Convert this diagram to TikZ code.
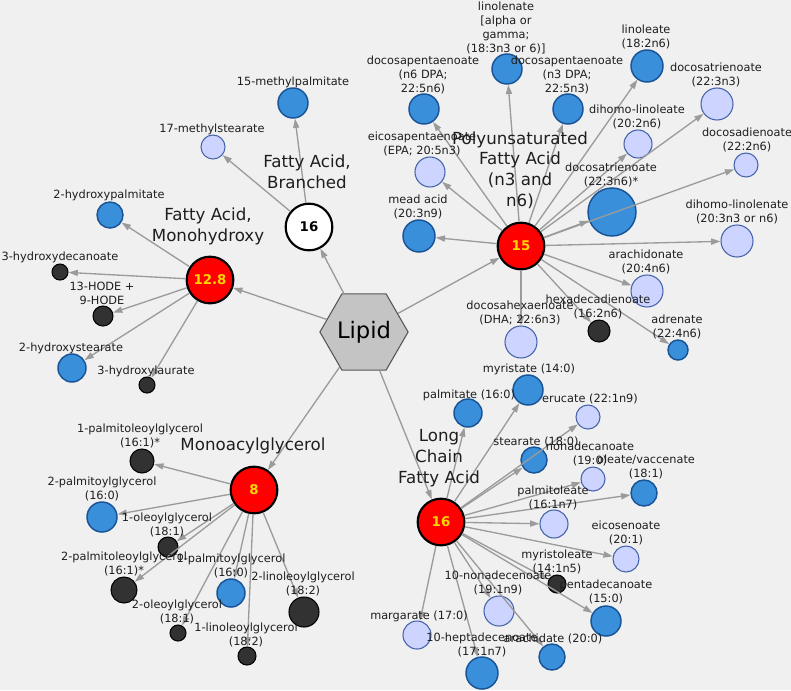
\documentclass[tikz,border=0pt]{standalone}
\usepackage{fontspec}
\setmainfont{DejaVu Sans}
\usetikzlibrary{arrows.meta,shapes.geometric}
\definecolor{bg}{RGB}{240,240,240}
\definecolor{dbF}{RGB}{58,143,218}
\definecolor{dbB}{RGB}{24,84,150}
\definecolor{lvF}{RGB}{204,212,255}
\definecolor{lvB}{RGB}{70,100,170}
\definecolor{dkF}{RGB}{50,50,50}
\definecolor{edgeC}{RGB}{155,155,155}
\definecolor{txtC}{RGB}{30,30,30}
\definecolor{yel}{RGB}{255,215,0}
\definecolor{hexF}{RGB}{196,196,196}
\definecolor{hexB}{RGB}{85,85,85}
\tikzset{
  cn/.style={circle, inner sep=0pt, minimum size={#1*1.5pt}},
  db/.style={cn=#1, draw=dbB, fill=dbF, line width=1.1pt},
  lv/.style={cn=#1, draw=lvB, fill=lvF, line width=0.8pt},
  dk/.style={cn=#1, draw=black, fill=dkF, line width=0.8pt},
  grp/.style={circle, inner sep=0pt, minimum size=35pt, draw=black, fill=red, line width=1.6pt, text=yel, font=\fontsize{10}{12}\selectfont\bfseries},
  grpw/.style={grp, fill=white, text=black},
  lab/.style={align=center, inner sep=0pt, text=txtC, font=\fontsize{8.5}{10.5}\selectfont},
  glab/.style={align=center, inner sep=0pt, text=txtC, font=\fontsize{12.5}{15.6}\selectfont},
  edge/.style={draw=edgeC, line width=1pt, -{Triangle[length=7pt,width=4.6pt]}},
}
\begin{document}
\begin{tikzpicture}[x=0.75pt,y=-0.75pt]
\fill[bg] (0,0) rectangle (791,690);
\useasboundingbox (0,0) rectangle (791,690);

% hub and group nodes
\node[regular polygon, regular polygon sides=6, minimum size=51pt, inner sep=0pt, draw=hexB, fill=hexF, line width=0.8pt, font=\fontsize{17}{20}\selectfont] (lipid) at (364,332) {Lipid};
\node[grp] (mh) at (210,280) {12.8};
\node[grpw] (br) at (309,227) {16};
\node[grp] (pu) at (521,246) {15};
\node[grp] (mag) at (254,490) {8};
\node[grp] (lc) at (441,522) {16};

% branched
\node[db=15] (m15p) at (293,103) {};
\node[lv=12] (m17s) at (213,147) {};
% monohydroxy
\node[db=13] (h2p) at (110,215) {};
\node[dk=8] (h3d) at (60,272) {};
\node[dk=10] (hode) at (103,316) {};
\node[db=14] (h2s) at (72,368) {};
\node[dk=8] (h3l) at (147,385) {};
% PUFA
\node[db=15] (lin3) at (507,69) {};
\node[db=15] (dpa6) at (424,109) {};
\node[db=15] (dpa3) at (568,109) {};
\node[db=16] (lin2) at (647,66) {};
\node[lv=16] (dtn3) at (717,104) {};
\node[lv=14] (dhl) at (638,144) {};
\node[lv=12] (dd) at (746,165) {};
\node[db=24] (dtn6) at (612,212) {};
\node[lv=16] (dhln) at (737,241) {};
\node[lv=15] (epa) at (430,172) {};
\node[db=16] (mead) at (419,236) {};
\node[lv=16] (ara) at (647,291) {};
\node[dk=11] (hxd) at (599,331) {};
\node[db=10] (adr) at (678,350) {};
\node[lv=16] (dha) at (521,342) {};
% long chain
\node[db=15] (myr) at (528,390) {};
\node[db=14] (pal) at (468,413) {};
\node[lv=12] (eru) at (588,417) {};
\node[db=13] (ste) at (534,460) {};
\node[lv=12] (nond) at (593,479) {};
\node[db=13] (olv) at (644,493) {};
\node[lv=14] (plo) at (554,524) {};
\node[lv=13] (eic) at (626,559) {};
\node[dk=9] (myro) at (557,584) {};
\node[db=15] (pent) at (606,621) {};
\node[lv=15] (nonde) at (499,611) {};
\node[lv=14] (marg) at (417,635) {};
\node[db=16] (hept) at (482,673) {};
\node[db=13] (arach) at (552,657) {};
% monoacylglycerol
\node[dk=12] (g1po) at (142,461) {};
\node[db=15] (g2p) at (102,517) {};
\node[dk=10] (g1o) at (168,547) {};
\node[dk=13] (g2po) at (124,590) {};
\node[db=14] (g1p) at (231,593) {};
\node[dk=15] (g2l) at (304,612) {};
\node[dk=8] (g2o) at (178,633) {};
\node[dk=9] (g1l) at (247,656) {};

% edges
\foreach \c in {mh,br,pu,mag,lc} \draw[edge] (lipid) -- (\c);
\foreach \c in {m15p,m17s} \draw[edge] (br) -- (\c);
\foreach \c in {h2p,h3d,hode,h2s,h3l} \draw[edge] (mh) -- (\c);
\foreach \c in {lin3,dpa6,dpa3,lin2,dtn3,dhl,dd,dtn6,dhln,epa,mead,ara,hxd,adr,dha} \draw[edge] (pu) -- (\c);
\foreach \c in {myr,pal,eru,ste,nond,olv,plo,eic,myro,pent,nonde,marg,hept,arach} \draw[edge] (lc) -- (\c);
\foreach \c in {g1po,g2p,g1o,g2po,g1p,g2l,g2o,g1l} \draw[edge] (mag) -- (\c);

% group labels
\node[glab] (tbr) at (307,172) {Fatty Acid,\\Branched};
\node[glab] (tmh) at (208,226) {Fatty Acid,\\Monohydroxy};
\node[glab] (tpu) at (520,170) {Polyunsaturated\\Fatty Acid\\(n3 and\\n6)};
\node[glab] (tmag) at (253,446) {Monoacylglycerol};
\node[glab] (tlc) at (439,458) {Long\\Chain\\Fatty Acid};

% labels
\node[lab] (l1) at (293,82) {15-methylpalmitate};
\node[lab] (l2) at (212,129) {17-methylstearate};
\node[lab] (l3) at (109,195) {2-hydroxypalmitate};
\node[lab] (l4) at (60,257) {3-hydroxydecanoate};
\node[lab] (l5) at (102,293) {13-HODE +\\9-HODE};
\node[lab] (l6) at (71,348) {2-hydroxystearate};
\node[lab] (l7) at (146,371) {3-hydroxylaurate};
\node[lab] (l8) at (506,28) {linolenate\\{[alpha or}\\gamma;\\(18:3n3 or 6)]};
\node[lab] (l9) at (423,75) {docosapentaenoate\\(n6 DPA;\\22:5n6)};
\node[lab] (l10) at (567,75) {docosapentaenoate\\(n3 DPA;\\22:5n3)};
\node[lab] (l11) at (646,37) {linoleate\\(18:2n6)};
\node[lab] (l12) at (716,75) {docosatrienoate\\(22:3n3)};
\node[lab] (l13) at (637,117) {dihomo-linoleate\\(20:2n6)};
\node[lab] (l14) at (747,140) {docosadienoate\\(22:2n6)};
\node[lab] (l15) at (611,175) {docosatrienoate\\(22:3n6)*};
\node[lab] (l16) at (737,212) {dihomo-linolenate\\(20:3n3 or n6)};
\node[lab] (l17) at (422,144) {eicosapentaenoate\\(EPA; 20:5n3)};
\node[lab] (l18) at (418,207) {mead acid\\(20:3n9)};
\node[lab] (l19) at (646,262) {arachidonate\\(20:4n6)};
\node[lab] (l20) at (598,307) {hexadecadienoate\\(16:2n6)};
\node[lab] (l21) at (677,327) {adrenate\\(22:4n6)};
\node[lab] (l22) at (520,313) {docosahexaenoate\\(DHA; 22:6n3)};
\node[lab] (l23) at (529,369) {myristate (14:0)};
\node[lab] (l24) at (469,395) {palmitate (16:0)};
\node[lab] (l25) at (590,399) {erucate (22:1n9)};
\node[lab] (l26) at (536,442) {stearate (18:0)};
\node[lab] (l27) at (590,454) {nonadecanoate\\(19:0)};
\node[lab] (l28) at (646,467) {oleate/vaccenate\\(18:1)};
\node[lab] (l29) at (553,498) {palmitoleate\\(16:1n7)};
\node[lab] (l30) at (626,533) {eicosenoate\\(20:1)};
\node[lab] (l31) at (557,562) {myristoleate\\(14:1n5)};
\node[lab] (l32) at (606,592) {pentadecanoate\\(15:0)};
\node[lab] (l33) at (498,583) {10-nonadecenoate\\(19:1n9)};
\node[lab] (l34) at (419,616) {margarate (17:0)};
\node[lab] (l35) at (482,645) {10-heptadecenoate\\(17:1n7)};
\node[lab] (l36) at (553,639) {arachidate (20:0)};
\node[lab] (l37) at (140,436) {1-palmitoleoylglycerol\\(16:1)*};
\node[lab] (l38) at (102,489) {2-palmitoylglycerol\\(16:0)};
\node[lab] (l39) at (167,525) {1-oleoylglycerol\\(18:1)};
\node[lab] (l40) at (124,564) {2-palmitoleoylglycerol\\(16:1)*};
\node[lab] (l41) at (231,566) {1-palmitoylglycerol\\(16:0)};
\node[lab] (l42) at (303,584) {2-linoleoylglycerol\\(18:2)};
\node[lab] (l43) at (177,612) {2-oleoylglycerol\\(18:1)};
\node[lab] (l44) at (246,635) {1-linoleoylglycerol\\(18:2)};
\end{tikzpicture}
\end{document}
